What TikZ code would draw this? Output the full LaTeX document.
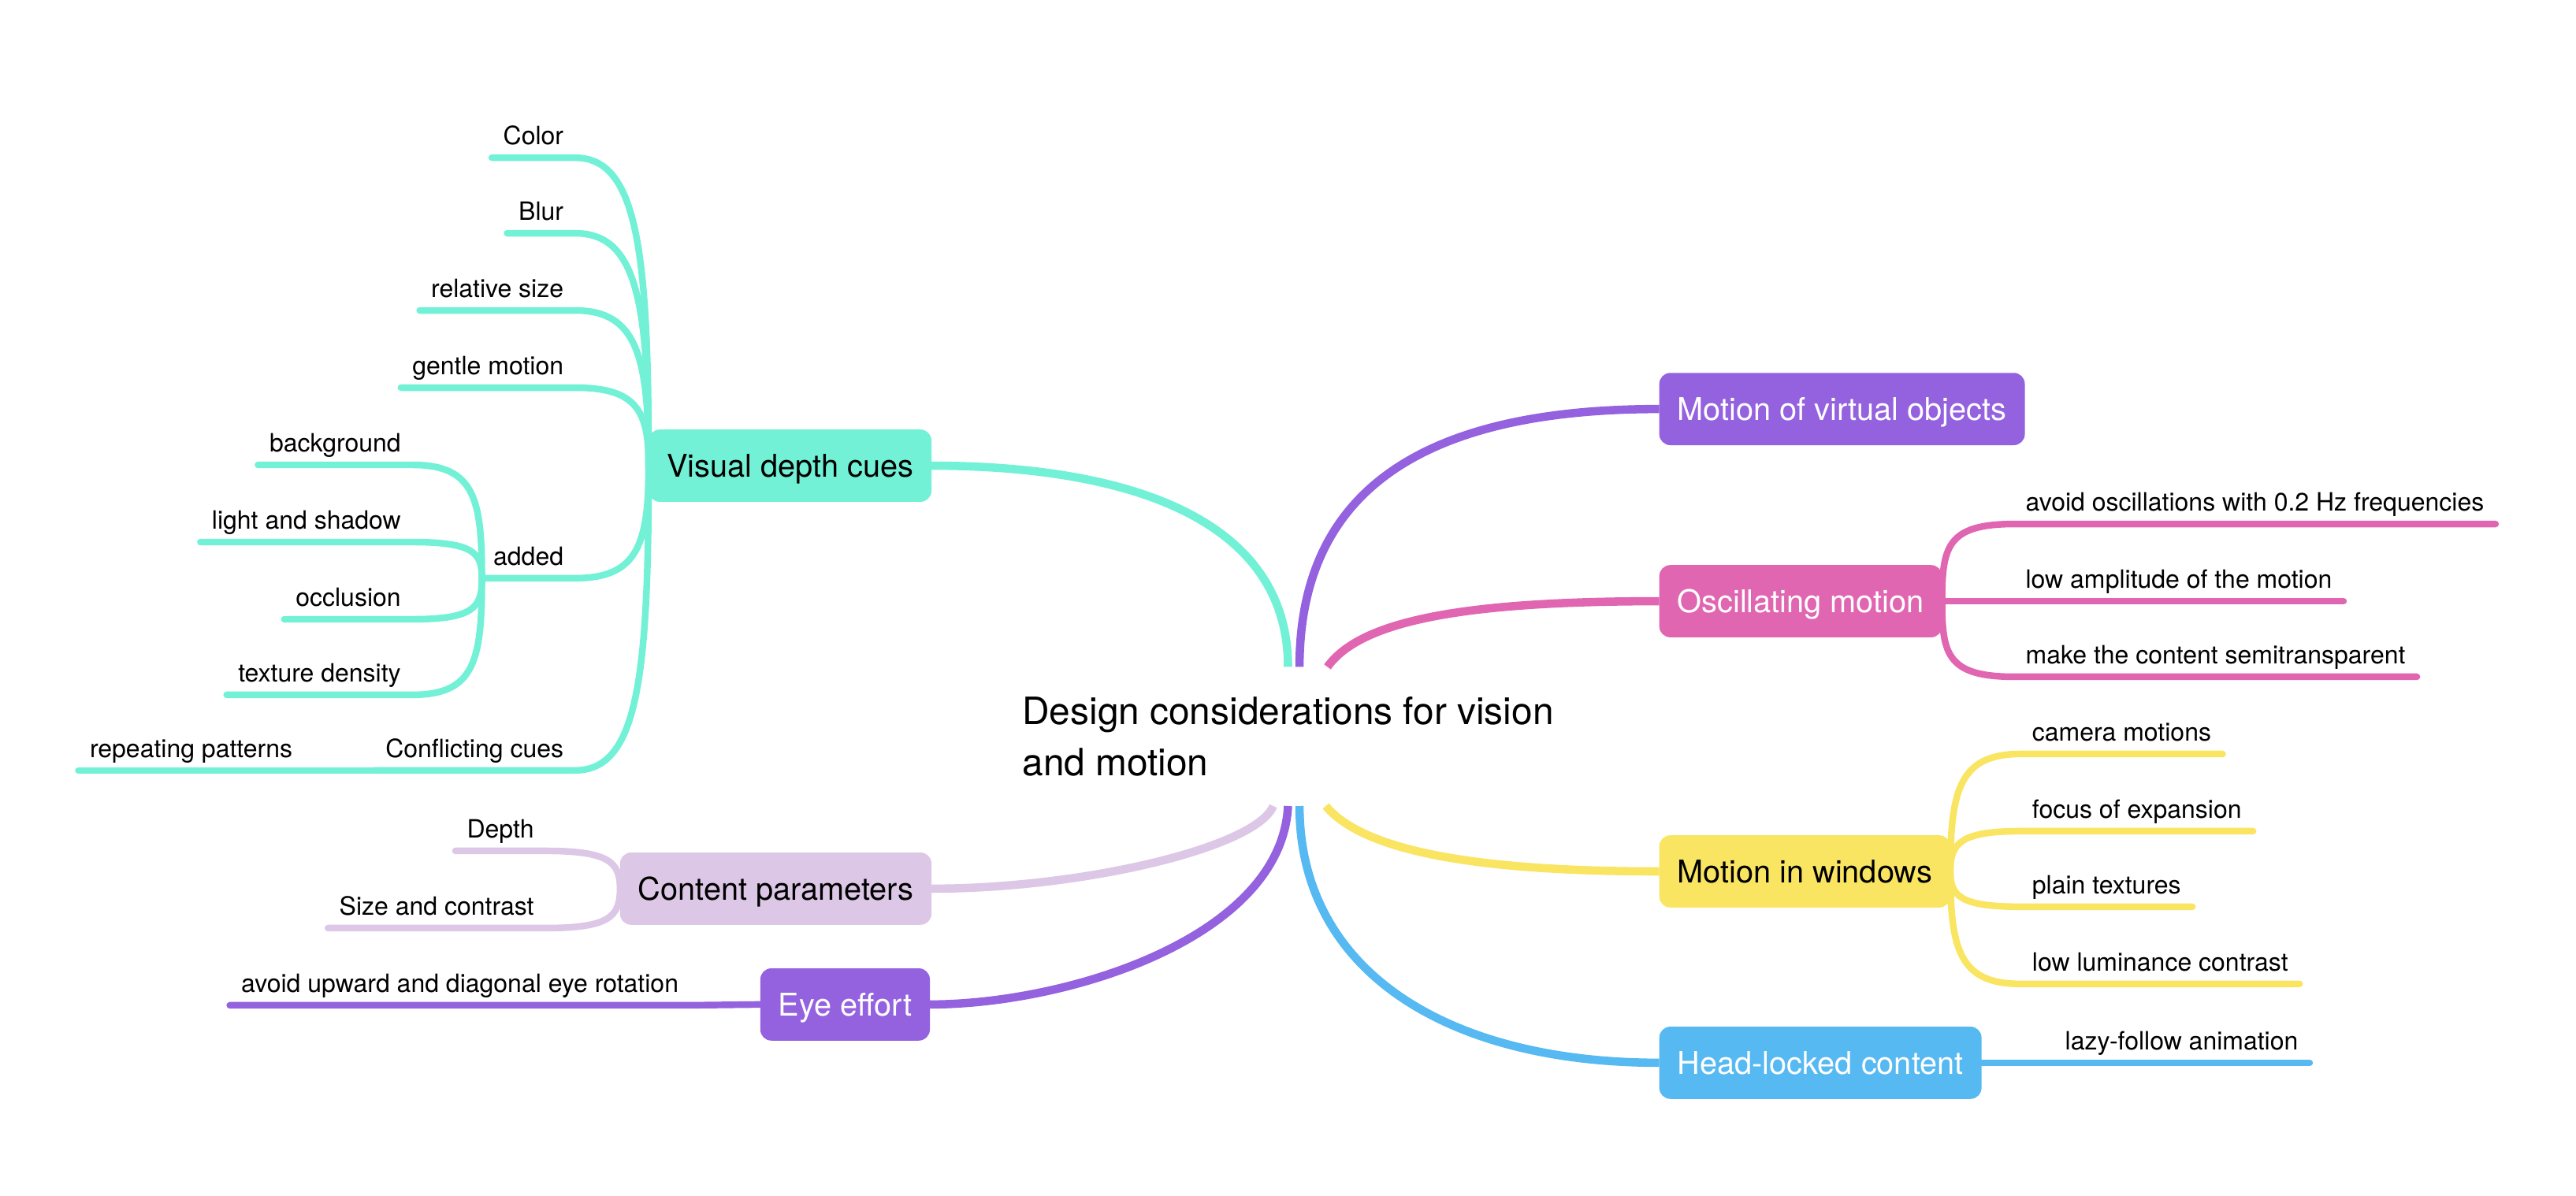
\documentclass[tikz,border=0pt]{standalone}
\usepackage{fontspec}
\setmainfont{TeX Gyre Heros}
\usetikzlibrary{calc}
\definecolor{mteal}{HTML}{72F1D6}
\definecolor{mpurple}{HTML}{9461DF}
\definecolor{mpink}{HTML}{E066B2}
\definecolor{myellow}{HTML}{F9E562}
\definecolor{mblue}{HTML}{56B9F2}
\definecolor{mlav}{HTML}{DCC7E6}
\tikzset{topic/.style = {rounded corners=0.14cm, minimum height=0.917cm,
                         inner xsep=0.229cm, inner ysep=0pt, outer sep=0pt,
                         text height=8.1pt, text depth=0pt,
                         font=\fontsize{11.3pt}{13pt}\selectfont},
         subtopic/.style = {inner xsep=0.146cm, inner ysep=0.167cm, outer sep=0pt,
                            text depth=0pt, font=\fontsize{9.1pt}{11pt}\selectfont},
         hub/.style = {anchor=north, align=left, minimum height=1.751cm,
                       inner sep=0pt, font=\fontsize{13.6pt}{18.4pt}\selectfont},
         mainlink/.style = {line width=3pt},
         leaflink/.style = {line width=2.4pt, line cap=round}}

\begin{document}
\begin{tikzpicture}[x=0.02085cm, y=0.02085cm]
    \useasboundingbox (0,0) rectangle (1568,-728);
    \node [hub] (centre) at (784,-406) {Design considerations for vision\\and motion};

    \node [topic, fill=mteal, anchor=east] (depthcues) at (567,-283.5) {Visual depth cues};
    \node [topic, fill=mlav, anchor=east] (content) at (567,-541) {Content parameters};
    \node [topic, fill=mpurple, text=white, anchor=east] (eyeeffort) at (566,-611.5) {Eye effort};
    \node [topic, fill=mpurple, text=white, anchor=west] (virtual) at (1010,-249) {Motion of virtual objects};
    \node [topic, fill=mpink, text=white, anchor=west] (oscill) at (1010,-366) {Oscillating motion};
    \node [topic, fill=myellow, anchor=west] (windows) at (1010,-530.5) {Motion in windows};
    \node [topic, fill=mblue, text=white, anchor=west] (headlock) at (1010,-647) {Head-locked content};

    \draw [mainlink, mteal] (centre.north) .. controls +(0,90) and +(120,0) .. (depthcues.east);
    \draw [mainlink, mpurple] ($(centre.north)+(7,0)$) .. controls +(0,110) and +(-140,0) .. (virtual.west);
    \draw [mainlink, mpink] ($(centre.north)+(24,0)$) .. controls +(20,28) and +(-120,0) .. (oscill.west);
    \draw [mainlink, mlav] ($(centre.south)+(-9,0)$) .. controls +(-10,-25) and +(93,0) .. (content.east);
    \draw [mainlink, mpurple] (centre.south) .. controls +(-4,-80) and +(84,0) .. (eyeeffort.east);
    \draw [mainlink, mblue] ($(centre.south)+(7,0)$) .. controls +(0,-100) and +(-130,0) .. (headlock.west);
    \draw [mainlink, myellow] ($(centre.south)+(23,0)$) .. controls +(25,-30) and +(-100,0) .. (windows.west);

    % visual depth cues
    \node [subtopic, anchor=south east] (color) at (350,-96) {Color};
    \node [subtopic, anchor=south east] (blur) at (350,-142) {Blur};
    \node [subtopic, anchor=south east] (relsize) at (350,-189) {relative size};
    \node [subtopic, anchor=south east] (gentle) at (350,-236) {gentle motion};
    \node [subtopic, anchor=south east] (added) at (350,-352) {added};
    \node [subtopic, anchor=south east] (conflict) at (350,-469) {Conflicting cues};
    \draw [leaflink, mteal] (depthcues.west) .. controls +(0,131) and +(38,0) .. (color.south east) -- (color.south west);
    \draw [leaflink, mteal] (depthcues.west) .. controls +(0,99) and +(38,0) .. (blur.south east) -- (blur.south west);
    \draw [leaflink, mteal] (depthcues.west) .. controls +(0,66) and +(38,0) .. (relsize.south east) -- (relsize.south west);
    \draw [leaflink, mteal] (depthcues.west) .. controls +(0,33) and +(38,0) .. (gentle.south east) -- (gentle.south west);
    \draw [leaflink, mteal] (depthcues.west) .. controls +(0,-48) and +(38,0) .. (added.south east) -- (added.south west);
    \draw [leaflink, mteal] (depthcues.west) .. controls +(0,-130) and +(38,0) .. (conflict.south east) -- (conflict.south west);

    \node [subtopic, anchor=south east] (backgr) at (251,-283) {background};
    \node [subtopic, anchor=south east] (lightshadow) at (251,-330) {light and shadow};
    \node [subtopic, anchor=south east] (occlusion) at (251,-377) {occlusion};
    \node [subtopic, anchor=south east] (texture) at (251,-423) {texture density};
    \draw [leaflink, mteal] (added.south west) .. controls +(0,48) and +(38,0) .. (backgr.south east) -- (backgr.south west);
    \draw [leaflink, mteal] (added.south west) .. controls +(0,15) and +(38,0) .. (lightshadow.south east) -- (lightshadow.south west);
    \draw [leaflink, mteal] (added.south west) .. controls +(0,-17.5) and +(38,0) .. (occlusion.south east) -- (occlusion.south west);
    \draw [leaflink, mteal] (added.south west) .. controls +(0,-50) and +(38,0) .. (texture.south east) -- (texture.south west);

    \node [subtopic, anchor=south east] (repeating) at (185,-469) {repeating patterns};
    \draw [leaflink, mteal] (conflict.south west) -- (repeating.south east) -- (repeating.south west);

    % content parameters
    \node [subtopic, anchor=south east] (depth) at (332,-518) {Depth};
    \node [subtopic, anchor=south east] (sizecontrast) at (332,-565) {Size and contrast};
    \draw [leaflink, mlav] (content.west) .. controls +(0,16) and +(39,0) .. (depth.south east) -- (depth.south west);
    \draw [leaflink, mlav] (content.west) .. controls +(0,-17) and +(39,0) .. (sizecontrast.south east) -- (sizecontrast.south west);

    % eye effort
    \node [subtopic, anchor=south east] (eyerot) at (420,-612) {avoid upward and diagonal eye rotation};
    \draw [leaflink, mpurple] (eyeeffort.west) -- (eyerot.south east) -- (eyerot.south west);

    % oscillating motion
    \node [subtopic, anchor=south west] (oscfreq) at (1226,-319) {avoid oscillations with 0.2 Hz frequencies};
    \node [subtopic, anchor=south west] (lowamp) at (1226,-366) {low amplitude of the motion};
    \node [subtopic, anchor=south west] (semitrans) at (1226,-412) {make the content semitransparent};
    \draw [leaflink, mpink] (oscill.east) .. controls +(0,33) and +(-41,0) .. (oscfreq.south west) -- (oscfreq.south east);
    \draw [leaflink, mpink] (oscill.east) -- (lowamp.south west) -- (lowamp.south east);
    \draw [leaflink, mpink] (oscill.east) .. controls +(0,-32) and +(-41,0) .. (semitrans.south west) -- (semitrans.south east);

    % motion in windows
    \node [subtopic, anchor=south west] (camera) at (1230,-459) {camera motions};
    \node [subtopic, anchor=south west] (focus) at (1230,-506) {focus of expansion};
    \node [subtopic, anchor=south west] (plain) at (1230,-552) {plain textures};
    \node [subtopic, anchor=south west] (lowlum) at (1230,-599) {low luminance contrast};
    \draw [leaflink, myellow] (windows.east) .. controls +(0,50) and +(-37,0) .. (camera.south west) -- (camera.south east);
    \draw [leaflink, myellow] (windows.east) .. controls +(0,17) and +(-37,0) .. (focus.south west) -- (focus.south east);
    \draw [leaflink, myellow] (windows.east) .. controls +(0,-15) and +(-37,0) .. (plain.south west) -- (plain.south east);
    \draw [leaflink, myellow] (windows.east) .. controls +(0,-48) and +(-37,0) .. (lowlum.south west) -- (lowlum.south east);

    % head-locked content
    \node [subtopic, anchor=south west] (lazy) at (1250,-647) {lazy-follow animation};
    \draw [leaflink, mblue] (headlock.east) -- (lazy.south west) -- (lazy.south east);
\end{tikzpicture}
\end{document}
